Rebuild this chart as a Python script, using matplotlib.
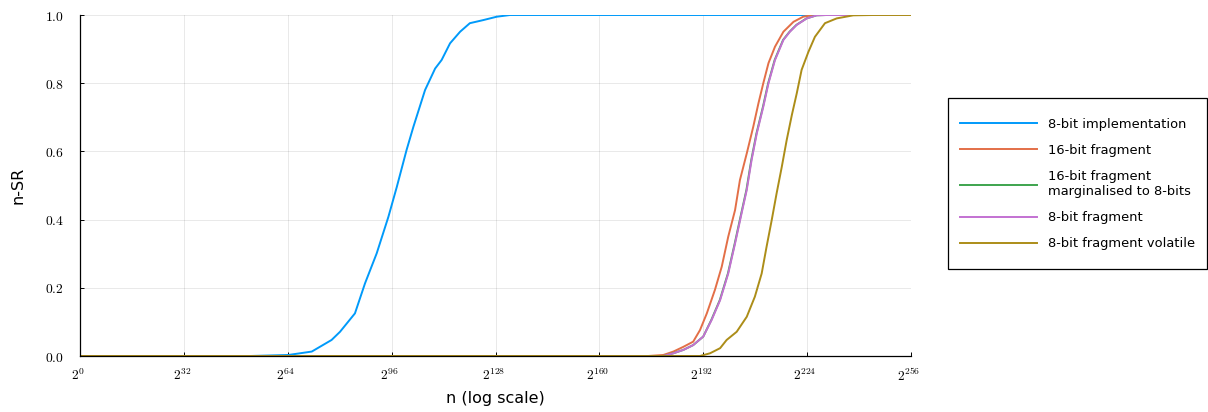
import matplotlib
matplotlib.use("Agg")
import matplotlib.pyplot as plt
from matplotlib.patches import Rectangle
from matplotlib.ticker import FixedLocator, FixedFormatter
from matplotlib.transforms import ScaledTranslation

# Exponent k of n = 2^k, and the n-SR reached at that point
impl8_x = [0, 52.4, 64.2, 71.4, 77.5, 80.1, 84.7, 87.8, 91.4, 95.0, 97.6, 100.6, 102.7,
           106.3, 109.4, 111.4, 114.0, 117.1, 120.1, 124.2, 128.4, 132.5, 256]
impl8_y = [0, 0, 0.003, 0.013, 0.047, 0.071, 0.125, 0.213, 0.301, 0.408, 0.496, 0.604, 0.672,
           0.78, 0.843, 0.868, 0.917, 0.951, 0.976, 0.985, 0.995, 1.0, 1.0]

frag16_x = [0, 175.0, 179.7, 182.8, 185.9, 188.9, 191.0, 193.1, 195.6, 197.7, 199.7, 201.8,
            203.3, 205.4, 207.4, 209.0, 210.5, 212.1, 214.1, 216.7, 219.8, 222.8, 225.9, 256]
frag16_y = [0, 0, 0.003, 0.013, 0.027, 0.042, 0.076, 0.125, 0.194, 0.262, 0.35, 0.428,
            0.516, 0.594, 0.672, 0.741, 0.8, 0.859, 0.907, 0.951, 0.98, 0.995, 1.0, 1.0]

marg16_x = [0, 175.0, 179.7, 182.8, 185.9, 188.9, 192.0, 194.5, 197.1, 199.6, 201.7, 203.7,
            205.3, 206.8, 208.4, 210.4, 212.0, 214.0, 216.6, 218.6, 220.7, 223.8, 226.9, 230.0, 256]
marg16_y = [0, 0, 0.0, 0.008, 0.018, 0.032, 0.057, 0.106, 0.164, 0.242, 0.33, 0.418,
            0.487, 0.575, 0.653, 0.731, 0.8, 0.868, 0.927, 0.951, 0.971, 0.99, 0.999, 1.0, 1.0]

frag8_x = [0, 175.0, 179.7, 182.8, 185.9, 188.9, 192.0, 194.6, 197.2, 199.7, 201.8, 203.8,
           205.4, 206.9, 208.5, 210.5, 212.1, 214.1, 216.7, 218.7, 220.8, 223.9, 226.9, 230.0, 256]
frag8_y = [0, 0, 0.0, 0.008, 0.018, 0.032, 0.057, 0.106, 0.164, 0.242, 0.33, 0.418,
           0.487, 0.575, 0.653, 0.731, 0.8, 0.868, 0.927, 0.951, 0.971, 0.99, 0.999, 1.0, 1.0]

vol8_x = [0, 191.0, 194.1, 197.2, 199.2, 202.3, 205.4, 207.9, 210.0, 211.5, 213.1, 214.6,
          216.2, 217.7, 219.3, 220.8, 222.3, 224.4, 226.4, 229.5, 233.1, 238.2, 244.4, 256]
vol8_y = [0, 0, 0.008, 0.023, 0.047, 0.071, 0.115, 0.174, 0.242, 0.32, 0.399, 0.477,
          0.555, 0.633, 0.707, 0.77, 0.839, 0.892, 0.936, 0.976, 0.99, 0.999, 1.0, 1.0]

series = [
    ("8-bit implementation", impl8_x, impl8_y, "#009AFA"),
    ("16-bit fragment", frag16_x, frag16_y, "#E36F47"),
    ("16-bit fragment\nmarginalised to 8-bits", marg16_x, marg16_y, "#3EA44E"),
    ("8-bit fragment", frag8_x, frag8_y, "#C371D2"),
    ("8-bit fragment volatile", vol8_x, vol8_y, "#AC8D18"),
]

x_ticks = [0, 32, 64, 96, 128, 160, 192, 224, 256]
y_ticks = [0.0, 0.2, 0.4, 0.6, 0.8, 1.0]

plt.rcParams["mathtext.fontset"] = "cm"
plt.rcParams["font.family"] = ["DejaVu Sans"]

W, H = 1208, 412
fig = plt.figure(figsize=(W / 100, H / 100), dpi=100)
ax = fig.add_axes([80 / W, (H - 356) / H, (911 - 80) / W, (356 - 15) / H])

for label, xs, ys, col in series:
    ax.plot(xs, ys, color=col, lw=1.4, label=label, solid_joinstyle="round")

ax.set_xlim(0, 256)
ax.set_ylim(0, 1)
ax.xaxis.set_major_locator(FixedLocator(x_ticks))
ax.xaxis.set_major_formatter(FixedFormatter([f"$2^{{{k}}}$" for k in x_ticks]))
ax.yaxis.set_major_locator(FixedLocator(y_ticks))
ax.yaxis.set_major_formatter(FixedFormatter([f"${v:.1f}$" for v in y_ticks]))

ax.grid(True, color="black", alpha=0.1, lw=0.6)
ax.set_axisbelow(True)
for s in ("top", "right"):
    ax.spines[s].set_visible(False)
for s in ("left", "bottom"):
    ax.spines[s].set_color("black")
    ax.spines[s].set_linewidth(0.9)
ax.tick_params(direction="in", length=3, width=0.7, labelsize=9.8)
ax.tick_params(axis="x", pad=8.5)
ax.tick_params(axis="y", pad=11.5)

# nudge the exponent labels slightly left
shift = ScaledTranslation(-2 / 100, 0, fig.dpi_scale_trans)
for lbl in ax.get_xticklabels():
    lbl.set_transform(lbl.get_transform() + shift)

ax.set_xlabel("n (log scale)", fontsize=11.5, va="center")
ax.xaxis.set_label_coords(0.5, -(398 - 356) / 341)
ax.set_ylabel("n-SR", fontsize=11.5, va="center")
ax.yaxis.set_label_coords((18.5 - 80) / 831, 0.5)

leg = fig.legend(loc="upper left", bbox_to_anchor=(960 / W, 1 - 118 / H),
                 bbox_transform=fig.transFigure, fontsize=9.4, frameon=False,
                 handlelength=77 / 13.05, handletextpad=11 / 13.05,
                 labelspacing=1.0, borderpad=0, borderaxespad=0)

fig.patches.append(Rectangle((948 / W, 1 - 269 / H), (1207 - 948) / W, (269 - 98) / H,
                             transform=fig.transFigure, fill=False,
                             edgecolor="black", lw=0.9))

fig.savefig("out.png", dpi=100)
